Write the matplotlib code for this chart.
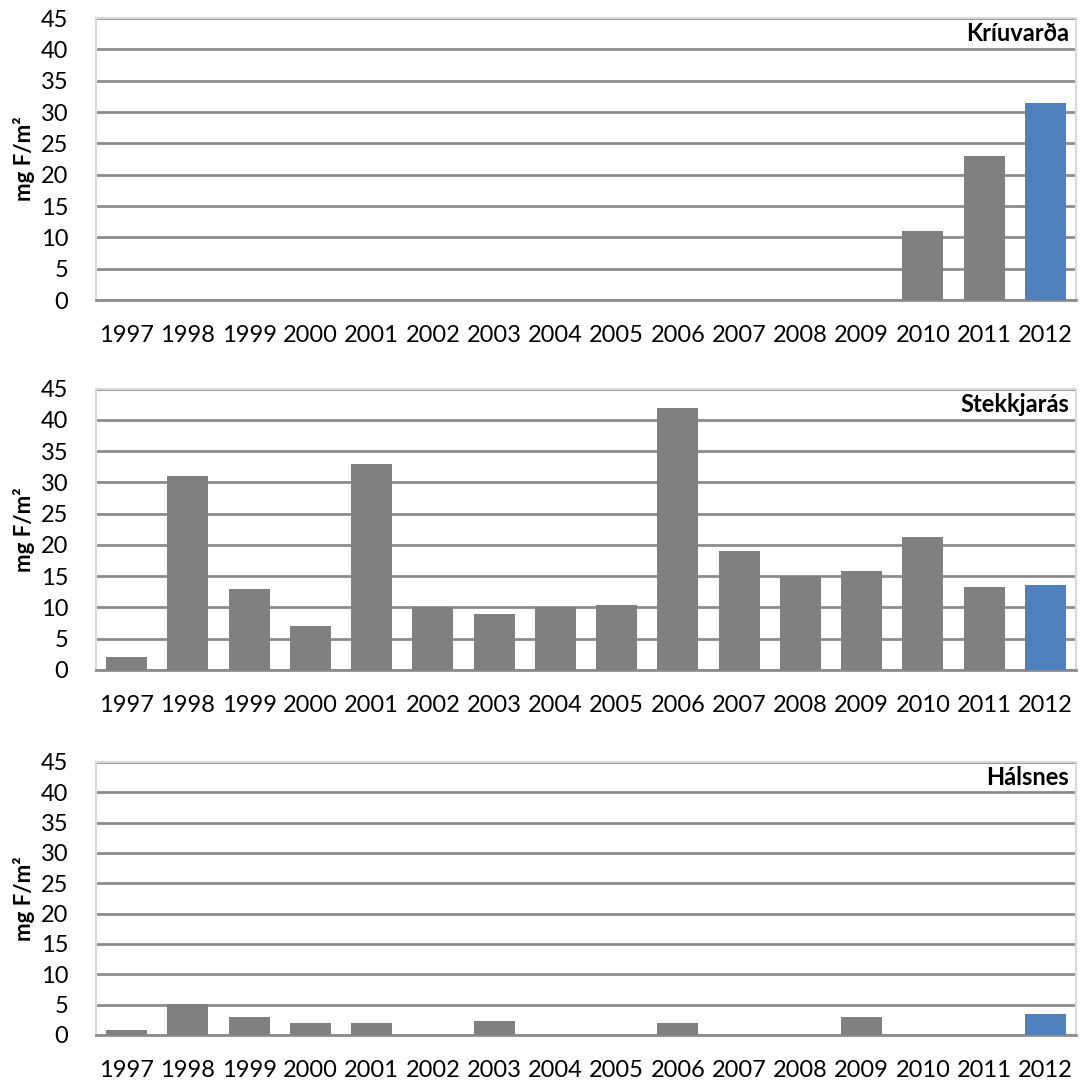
import matplotlib.pyplot as plt
import numpy as np

plt.rcParams['font.family'] = ['Lato', 'DejaVu Sans']

years = [str(y) for y in range(1997, 2013)]
kriuvarda = [0, 0, 0, 0, 0, 0, 0, 0, 0, 0, 0, 0, 0, 11.0, 23.0, 31.4]
stekkjaras = [2.0, 31.0, 13.0, 7.0, 32.9, 10.1, 9.0, 10.1, 10.4, 41.9, 19.0, 15.0, 15.9, 21.2, 13.2, 13.6]
halsnes = [0.9, 5.1, 2.9, 1.9, 1.9, 0, 2.3, 0, 0, 1.9, 0, 0, 2.9, 0, 0, 3.4]
stations = ["Kríuvarða", "Stekkjarás", "Hálsnes"]
yticks = list(range(0, 50, 5))

grey = "#808080"
blue = "#4f81bd"
grid_col = "#8c8c8c"
light = "#d9d9d9"

# panel rectangles in figure fractions (from pixel positions)
rects = [
    [0.0886, 0.7235, 0.905, 0.2599],
    [0.0886, 0.3825, 0.905, 0.2594],
    [0.0886, 0.0461, 0.905, 0.2516],
]

fig = plt.figure(figsize=(10.83, 10.85), dpi=100)

for rect, name, vals in zip(rects, stations, [kriuvarda, stekkjaras, halsnes]):
    ax = fig.add_axes(rect)
    x = np.arange(len(years))
    colors = [grey] * (len(years) - 1) + [blue]
    ax.bar(x, vals, width=0.67, color=colors, zorder=3)
    ax.set_xlim(-0.5, len(years) - 0.5)
    ax.set_ylim(0, 45)
    ax.set_yticks(yticks)
    ax.set_xticks(x)
    ax.set_xticklabels(years)
    ax.yaxis.grid(True, color=grid_col, linewidth=2, zorder=0)
    ax.set_axisbelow(True)
    for s in ["top", "left", "right"]:
        ax.spines[s].set_color(light)
        ax.spines[s].set_linewidth(1.5)
    ax.spines["bottom"].set_color(grid_col)
    ax.spines["bottom"].set_linewidth(2)
    ax.tick_params(axis="both", length=0, labelsize=17)
    ax.tick_params(axis="x", pad=18)
    ax.tick_params(axis="y", pad=20)
    ax.set_ylabel("mg F/m²", fontsize=16, fontweight="bold", labelpad=4)
    ax.text(0.993, 0.945, name, transform=ax.transAxes, ha="right", va="center",
            fontsize=17, fontweight="bold")

fig.savefig("out.png", dpi=100)
